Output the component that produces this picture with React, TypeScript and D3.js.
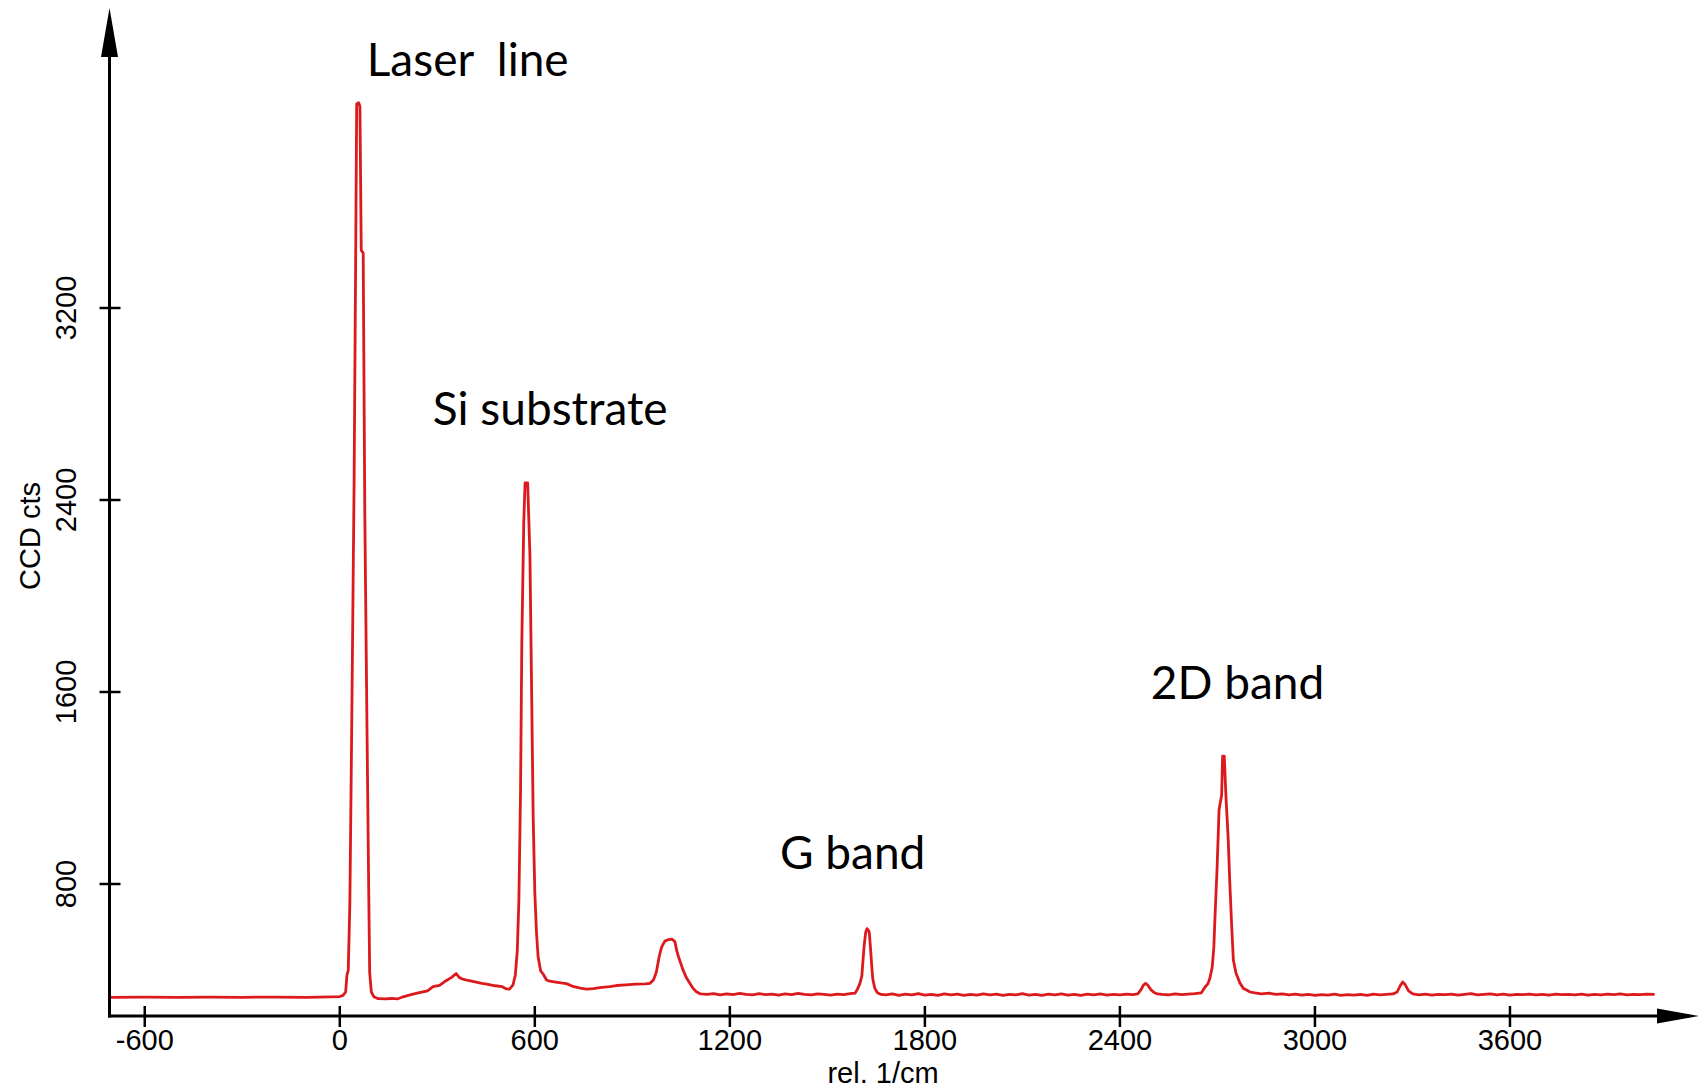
import React from 'react';
import * as d3 from 'd3';

// Raman spectrum (rel. 1/cm vs CCD counts)
const wavenumber = [
  -710, -600, -500, -400, -300, -200, -100, -30, 0, 10, 18, 22, 26, 31, 37, 44, 49, 52, 58, 62, 66, 72, 77, 84, 89, 92, 97,
  105, 118, 140, 160, 177, 195, 213, 248, 270, 287, 307, 327, 345, 358, 368, 378, 395, 423, 437, 452, 478, 500, 513, 522,
  533, 540, 546, 551, 556, 560, 566, 570, 578, 585, 590, 595, 600, 605, 610, 618, 626, 636, 646, 660, 680, 697, 720, 740,
  759, 780, 800, 830, 851, 880, 910, 940, 954, 965, 974, 983, 990, 1000, 1010, 1022, 1031, 1037, 1042, 1050, 1056, 1066,
  1077, 1087, 1097, 1110, 1130, 1150, 1170, 1190, 1210, 1230, 1250, 1270, 1290, 1310, 1330, 1350, 1370, 1390, 1410, 1430,
  1450, 1470, 1490, 1510, 1530, 1550, 1570, 1585, 1592, 1600, 1606, 1613, 1618, 1622, 1626, 1629, 1633, 1637, 1640, 1646,
  1654, 1665, 1680, 1700, 1720, 1740, 1760, 1780, 1800, 1820, 1840, 1860, 1880, 1900, 1920, 1940, 1960, 1980, 2000, 2020,
  2040, 2060, 2080, 2100, 2120, 2140, 2160, 2180, 2200, 2220, 2240, 2260, 2280, 2300, 2320, 2340, 2360, 2380, 2400, 2420,
  2440, 2455, 2465, 2472, 2479, 2486, 2495, 2505, 2515, 2530, 2550, 2570, 2590, 2610, 2630, 2650, 2662, 2671, 2677, 2684,
  2689, 2693, 2699, 2705, 2713, 2716, 2721, 2726, 2733, 2738, 2744, 2749, 2757, 2769, 2780, 2790, 2800, 2815, 2835, 2860,
  2880, 2900, 2920, 2940, 2960, 2980, 3000, 3020, 3040, 3060, 3080, 3100, 3120, 3140, 3160, 3180, 3200, 3220, 3240, 3253,
  3262, 3270, 3278, 3288, 3301, 3320, 3340, 3360, 3380, 3400, 3420, 3440, 3460, 3480, 3500, 3520, 3540, 3560, 3580, 3600,
  3620, 3640, 3660, 3680, 3700, 3720, 3740, 3760, 3780, 3800, 3820, 3840, 3860, 3880, 3900, 3920, 3940, 3960, 3980, 4000,
  4020, 4045,
];

const ccdCounts = [
  328, 329, 328, 329, 328, 329, 328, 330, 331, 336, 350, 420, 440, 720, 1490, 2470, 3430, 4050, 4055, 4040, 3440, 3430, 2340, 1410, 775, 430, 350,
  330, 322, 321, 323, 321, 330, 337, 348, 355, 372, 378, 397, 412, 427, 410, 404, 398, 390, 386, 383, 376, 372, 363, 362,
  380, 420, 520, 734, 1178, 1805, 2308, 2471, 2471, 2168, 1621, 1075, 764, 601, 498, 438, 424, 400, 395, 392, 388, 385, 372, 366,
  362, 364, 368, 372, 377, 380, 383, 384, 386, 400, 433, 500, 537, 562, 568, 570, 560, 520, 497, 465, 442, 410,
  386, 365, 351, 342, 340, 343, 338, 342, 339, 344, 340, 338, 343, 339, 341, 337, 342, 339, 344, 340,
  338, 342, 340, 337, 341, 339, 343, 345, 360, 385, 416, 541, 600, 614, 608, 597, 527, 450, 402, 365,
  347, 340, 338, 342, 336, 341, 338, 343, 337, 340, 336, 342, 338, 341, 336, 340, 337, 342, 338, 341,
  336, 340, 338, 343, 337, 340, 336, 341, 338, 342, 337, 340, 336, 341, 338, 342, 337, 340, 338, 341,
  339, 342, 360, 378, 386, 378, 360, 348, 342, 340, 338, 342, 339, 341, 343, 346, 371, 385, 408, 454,
  538, 679, 867, 1108, 1171, 1333, 1333, 1171, 992, 808, 621, 483, 429, 388, 365, 358, 350, 346, 342, 345,
  340, 342, 338, 341, 337, 340, 336, 339, 337, 341, 336, 339, 337, 340, 336, 341, 338, 340, 342, 350,
  375, 392, 380, 355, 342, 338, 341, 337, 340, 339, 341, 337, 340, 343, 338, 340, 342, 338, 341, 337,
  340, 339, 341, 338, 340, 337, 341, 339, 340, 338, 341, 337, 340, 338, 341, 339, 342, 338, 340, 339,
  341, 340,
];

const xTickValues = [-600, 0, 600, 1200, 1800, 2400, 3000, 3600];
const yTickValues = [800, 1600, 2400, 3200];
const peakNames = ['Laser  line', 'Si substrate', 'G band', '2D band'];

const App = () => {
  const width = 1699;
  const height = 1091;
  const axisX = 109.5; // y axis position (px)
  const axisY = 1016; // x axis position (px)

  const x = d3.scaleLinear().domain([-710, 4180]).range([109, 1698.5]);
  const y = d3.scaleLinear().domain([250, 4450]).range([axisY, 8]);

  const points = wavenumber.map((w, i) => [w, ccdCounts[i]] as [number, number]);
  const line = d3.line<[number, number]>()
    .x(d => x(d[0]))
    .y(d => y(d[1]));

  // where each annotation sits, in data units (start of text, baseline)
  const peakLabelAnchors = [[83, 4167], [286, 2712], [1354, 862], [2495, 1571]];

  const tickFont = "'Liberation Sans', Arial, sans-serif";

  return (
    <div style={{ position: 'absolute', left: 0, top: 0 }}>
      <svg width={width} height={height} style={{ display: 'block', background: '#fff' }}>
        {/* spectrum */}
        <path d={line(points) || ''} fill="none" stroke="#dc1a1e" strokeWidth={2.8} strokeLinejoin="round" />

        {/* y axis with arrow */}
        <line x1={axisX} x2={axisX} y1={axisY + 1.5} y2={50} stroke="#000" strokeWidth={3} />
        <path d={`M${axisX},8 L${axisX + 8.5},57 L${axisX - 8.5},57 Z`} fill="#000" />
        {yTickValues.map(v => (
          <g key={v}>
            <line x1={axisX - 10} x2={axisX + 11} y1={y(v)} y2={y(v)} stroke="#000" strokeWidth={2.5} />
            <text
              transform={`translate(76,${y(v)}) rotate(-90)`}
              textAnchor="middle"
              fontFamily={tickFont}
              fontSize={29}
              fill="#000"
            >
              {v}
            </text>
          </g>
        ))}
        <text
          transform="translate(40,536) rotate(-90)"
          textAnchor="middle"
          fontFamily={tickFont}
          fontSize={29}
          fill="#000"
        >
          CCD cts
        </text>

        {/* x axis with arrow */}
        <line x1={axisX - 1.5} x2={1665} y1={axisY} y2={axisY} stroke="#000" strokeWidth={3} />
        <path d={`M1699,${axisY} L1657,${axisY - 7.5} L1657,${axisY + 7.5} Z`} fill="#000" />
        {xTickValues.map(v => (
          <g key={v}>
            <line x1={x(v)} x2={x(v)} y1={axisY - 10} y2={axisY + 11} stroke="#000" strokeWidth={2.5} />
            <text x={x(v)} y={1050} textAnchor="middle" fontFamily={tickFont} fontSize={29} fill="#000">
              {v}
            </text>
          </g>
        ))}
        <text x={883} y={1083} textAnchor="middle" fontFamily={tickFont} fontSize={29} fill="#000">
          rel. 1/cm
        </text>

        {/* peak annotations */}
        {peakNames.map((name, i) => (
          <text
            key={name}
            x={x(peakLabelAnchors[i][0])}
            y={y(peakLabelAnchors[i][1])}
            fontFamily="Lato, 'Open Sans', sans-serif"
            fontSize={46}
            fill="#000"
            style={{ whiteSpace: 'pre' }}
          >
            {name}
          </text>
        ))}
      </svg>
    </div>
  );
};

export default App;
